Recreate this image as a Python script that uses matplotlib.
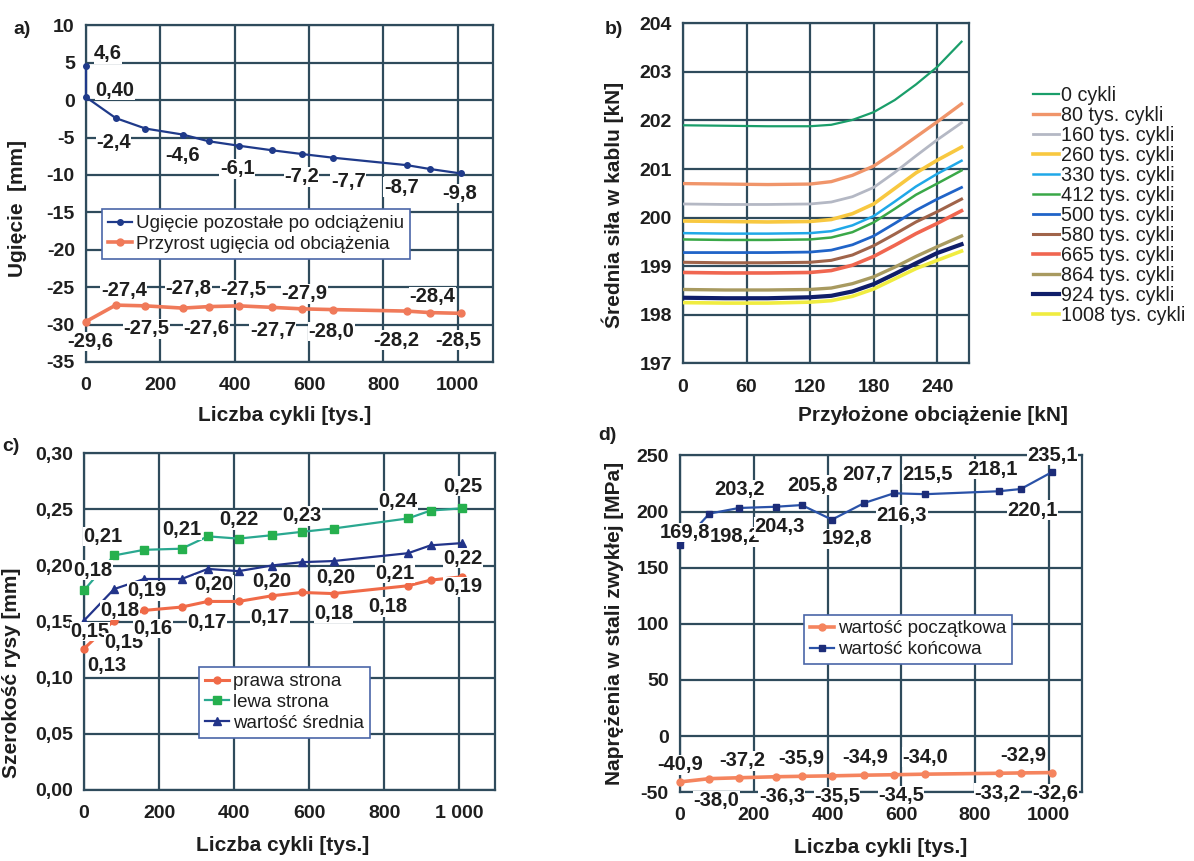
import matplotlib
matplotlib.use("Agg")
import matplotlib.pyplot as plt
from matplotlib.ticker import FuncFormatter

plt.rcParams['font.family'] = ['Liberation Sans', 'DejaVu Sans']
plt.rcParams['font.size'] = 14
plt.rcParams['font.weight'] = 'bold'
plt.rcParams['axes.labelweight'] = 'bold'
plt.rcParams['axes.unicode_minus'] = False

GRID = '#2f4b5c'
TXT = '#1e1e1e'

cycles = [0, 80, 160, 260, 330, 412, 500, 580, 665, 864, 924, 1008]

# a) ugiecie
a_resid_x = [0, 0, 80, 160, 260, 330, 412, 500, 580, 665, 864, 924, 1008]
a_resid = [4.6, 0.4, -2.4, -3.8, -4.6, -5.5, -6.1, -6.7, -7.2, -7.7, -8.7, -9.2, -9.8]
a_incr = [-29.6, -27.4, -27.5, -27.8, -27.6, -27.5, -27.7, -27.9, -28.0, -28.2, -28.4, -28.5]
a_resid_lab = [(0, '4,6', 22, 12), (1, '0,40', 29, 7), (2, '-2,4', -2, -24), (4, '-4,6', 0, -21),
               (6, '-6,1', -2, -23), (8, '-7,2', 0, -23), (9, '-7,7', 15, -24), (10, '-8,7', -6, -22),
               (12, '-9,8', -1, -20)]
a_incr_lab = [(0, '-29,6', 4, -20), (1, '-27,4', 8, 15), (2, '-27,5', 1, -23), (3, '-27,8', 6, 20),
              (4, '-27,6', -2, -22), (5, '-27,5', 4, 16), (6, '-27,7', 1, -23), (7, '-27,9', 3, 15),
              (8, '-28,0', -2, -22), (9, '-28,2', -11, -29), (10, '-28,4', 3, 16), (11, '-28,5', -3, -27)]

# b) sila w kablu
b_load = [0, 40, 80, 120, 140, 160, 180, 200, 220, 240, 263]
b_names = ['0 cykli', '80 tys. cykli', '160 tys. cykli', '260 tys. cykli', '330 tys. cykli',
           '412 tys. cykli', '500 tys. cykli', '580 tys. cykli', '665 tys. cykli', '864 tys. cykli',
           '924 tys. cykli', '1008 tys. cykli']
b_force = [
    [201.90, 201.89, 201.88, 201.88, 201.91, 202.01, 202.17, 202.42, 202.74, 203.10, 203.62],
    [200.70, 200.69, 200.68, 200.69, 200.74, 200.87, 201.06, 201.35, 201.66, 201.97, 202.34],
    [200.28, 200.27, 200.27, 200.28, 200.32, 200.43, 200.62, 200.93, 201.27, 201.60, 201.95],
    [199.93, 199.92, 199.91, 199.92, 199.96, 200.08, 200.28, 200.60, 200.92, 201.18, 201.45],
    [199.68, 199.67, 199.67, 199.68, 199.72, 199.84, 200.03, 200.33, 200.64, 200.90, 201.17],
    [199.55, 199.54, 199.54, 199.55, 199.59, 199.70, 199.90, 200.18, 200.47, 200.70, 200.97],
    [199.28, 199.28, 199.28, 199.29, 199.33, 199.44, 199.62, 199.88, 200.15, 200.38, 200.62],
    [199.08, 199.07, 199.07, 199.08, 199.12, 199.23, 199.42, 199.66, 199.91, 200.12, 200.38],
    [198.87, 198.86, 198.86, 198.87, 198.91, 199.02, 199.20, 199.43, 199.67, 199.88, 200.14],
    [198.52, 198.51, 198.51, 198.52, 198.55, 198.64, 198.78, 198.98, 199.20, 199.40, 199.62],
    [198.35, 198.34, 198.34, 198.36, 198.39, 198.48, 198.63, 198.84, 199.06, 199.27, 199.45],
    [198.25, 198.24, 198.24, 198.26, 198.29, 198.38, 198.53, 198.74, 198.95, 199.12, 199.31],
]
b_colors = ['#1a9e6a', '#f0956a', '#b4b8c4', '#f8c840', '#20a8e8', '#3aa848',
            '#2064c8', '#a0644a', '#f06650', '#a89a60', '#101e6a', '#f0ec40']
b_widths = [1.6, 2.4, 2.0, 2.6, 1.8, 1.8, 2.0, 2.2, 2.6, 2.4, 3.0, 2.6]

# c) szerokosc rysy
c_right = [0.126, 0.151, 0.160, 0.163, 0.168, 0.168, 0.173, 0.176, 0.175, 0.182, 0.187, 0.190]
c_left = [0.178, 0.209, 0.214, 0.215, 0.226, 0.224, 0.227, 0.230, 0.233, 0.242, 0.249, 0.251]
c_mean = [0.151, 0.179, 0.188, 0.188, 0.197, 0.195, 0.200, 0.203, 0.204, 0.211, 0.218, 0.220]
c_left_lab = [(0, '0,18', 9, 20), (1, '0,21', -11, 19), (3, '0,21', 0, 19), (5, '0,22', 0, 19),
              (7, '0,23', 0, 16), (9, '0,24', -10, 17), (11, '0,25', 1, 22)]
c_mean_lab = [(0, '0,15', 6, -11), (1, '0,18', 6, -21), (2, '0,19', 3, -12), (4, '0,20', 6, -16),
              (6, '0,20', 0, -16), (8, '0,20', 2, -16), (9, '0,21', -13, -20), (11, '0,22', 1, -15)]
c_right_lab = [(0, '0,13', 23, -17), (1, '0,15', 10, -22), (2, '0,16', 9, -18), (4, '0,17', -1, -21),
               (6, '0,17', -2, -22), (8, '0,18', 0, -20), (9, '0,18', -20, -21), (11, '0,19', 1, -10)]

# d) naprezenia
d_init = [-40.9, -38.0, -37.2, -36.3, -35.9, -35.5, -34.9, -34.5, -34.0, -33.2, -32.9, -32.6]
d_final = [169.8, 198.2, 203.2, 204.3, 205.8, 192.8, 207.7, 216.3, 215.5, 218.1, 220.1, 235.1]
d_init_off = [(0, 17), (7, -22), (3, 17), (6, -20), (0, 18), (5, -21),
              (1, 18), (7, -21), (0, 17), (-1, -20), (2, 17), (4, -21)]
d_final_off = [(5, 13), (26, -23), (1, 18), (4, -20), (11, 20), (15, -19),
               (3, 28), (8, -22), (2, 20), (-6, 22), (12, -21), (1, 17)]


def comma(fmt):
    return FuncFormatter(lambda v, p: (fmt % v).replace('.', ','))


def style(ax):
    ax.grid(True, color=GRID, lw=1.6)
    ax.set_axisbelow(True)
    for s in ax.spines.values():
        s.set_color(GRID)
        s.set_linewidth(1.6)
    ax.tick_params(length=0, labelsize=14, colors=TXT)
    ax.tick_params(axis='x', pad=11)
    ax.tick_params(axis='y', pad=8)


def put(ax, x, y, txt, dx, dy):
    ax.annotate(txt, (x, y), xytext=(dx, dy), textcoords='offset pixels',
                ha='center', va='center', fontsize=14.5, color=TXT, zorder=5,
                bbox=dict(fc='white', ec='none', pad=0.3))


def legend(ax, anchor):
    lg = ax.legend(loc='upper left', bbox_to_anchor=anchor, fancybox=False, framealpha=1,
                   edgecolor='#4a66a8', borderpad=0.3, handlelength=1.3, handletextpad=0.2,
                   labelspacing=0.2, prop={'weight': 'normal', 'size': 13.5})
    lg.get_frame().set_linewidth(1.2)
    for t in lg.get_texts():
        t.set_color(TXT)
    return lg


fig = plt.figure(figsize=(11.94, 8.61), dpi=100)
ax_a = fig.add_axes([0.072, 0.5796, 0.341, 0.391])
ax_b = fig.add_axes([0.572, 0.578, 0.2395, 0.395])
ax_c = fig.add_axes([0.0704, 0.0825, 0.344, 0.391])
ax_d = fig.add_axes([0.5695, 0.080, 0.337, 0.391])

# ---- a)
style(ax_a)
ax_a.plot(a_resid_x, a_resid, '-o', color='#1f3a8a', lw=1.6, ms=4, clip_on=False, zorder=3,
          label='Ugięcie pozostałe po odciążeniu')
ax_a.plot(cycles, a_incr, '-o', color='#f07a5a', lw=2.6, ms=5, clip_on=False, zorder=3,
          label='Przyrost ugięcia od obciążenia')
for i, t, dx, dy in a_resid_lab:
    put(ax_a, a_resid_x[i], a_resid[i], t, dx, dy)
for i, t, dx, dy in a_incr_lab:
    put(ax_a, cycles[i], a_incr[i], t, dx, dy)
ax_a.set_xlim(0, 1095)
ax_a.set_ylim(-35, 10)
ax_a.set_xticks(range(0, 1001, 200))
ax_a.set_yticks(range(-35, 11, 5))
ax_a.set_xlabel('Liczba cykli [tys.]', fontsize=15, color=TXT)
ax_a.set_ylabel('Ugięcie  [mm]', fontsize=15, color=TXT)
ax_a.xaxis.set_label_coords(0.489, -0.131)
ax_a.yaxis.set_label_coords(-0.145, 0.457)
legend(ax_a, (0.017, 0.481))

# ---- b)
style(ax_b)
for vals, name, col, w in zip(b_force, b_names, b_colors, b_widths):
    ax_b.plot(b_load, vals, color=col, lw=w, label=name, zorder=3)
ax_b.set_xlim(0, 270)
ax_b.set_ylim(197, 204)
ax_b.set_xticks(range(0, 241, 60))
ax_b.set_yticks(range(197, 205))
ax_b.set_xlabel('Przyłożone obciążenie [kN]', fontsize=15, color=TXT)
ax_b.set_ylabel('Średnia siła w kablu [kN]', fontsize=15, color=TXT)
ax_b.xaxis.set_label_coords(0.874, -0.126)
ax_b.yaxis.set_label_coords(-0.206, 0.465)
lb = ax_b.legend(loc='upper left', bbox_to_anchor=(1.19, 0.845), frameon=False, borderpad=0,
                 handlelength=1.3, handletextpad=0.1, labelspacing=0.05,
                 prop={'weight': 'normal', 'size': 14.2})
for t in lb.get_texts():
    t.set_color(TXT)

# ---- c)
style(ax_c)
ax_c.plot(cycles, c_right, '-o', color='#f06a48', lw=2.2, ms=5, clip_on=False, zorder=3,
          label='prawa strona')
ax_c.plot(cycles, c_left, '-s', color='#2aa890', mfc='#26b04e', mec='#26b04e', lw=1.6, ms=6,
          clip_on=False, zorder=3, label='lewa strona')
ax_c.plot(cycles, c_mean, '-^', color='#22348a', lw=1.6, ms=6, clip_on=False, zorder=3,
          label='wartość średnia')
for i, t, dx, dy in c_left_lab:
    put(ax_c, cycles[i], c_left[i], t, dx, dy)
for i, t, dx, dy in c_mean_lab:
    put(ax_c, cycles[i], c_mean[i], t, dx, dy)
for i, t, dx, dy in c_right_lab:
    put(ax_c, cycles[i], c_right[i], t, dx, dy)
ax_c.set_xlim(0, 1095)
ax_c.set_ylim(0, 0.30)
ax_c.set_xticks(range(0, 1001, 200))
ax_c.set_yticks([0, 0.05, 0.10, 0.15, 0.20, 0.25, 0.30])
ax_c.yaxis.set_major_formatter(comma('%.2f'))
ax_c.xaxis.set_major_formatter(FuncFormatter(lambda v, p: f'{int(v):,}'.replace(',', ' ')))
ax_c.set_xlabel('Liczba cykli [tys.]', fontsize=15, color=TXT)
ax_c.set_ylabel('Szerokość rysy [mm]', fontsize=15, color=TXT)
ax_c.xaxis.set_label_coords(0.484, -0.137)
ax_c.yaxis.set_label_coords(-0.153, 0.347)
legend(ax_c, (0.258, 0.392))

# ---- d)
style(ax_d)
ax_d.plot(cycles, d_init, '-o', color='#f5845e', lw=2.6, ms=5, clip_on=False, zorder=3,
          label='wartość początkowa')
ax_d.plot(cycles, d_final, '-s', color='#2a52a8', mfc='#1c2c78', mec='#1c2c78', lw=1.6, ms=5,
          clip_on=False, zorder=3, label='wartość końcowa')
for x, v, (dx, dy) in zip(cycles, d_init, d_init_off):
    put(ax_d, x, v, f'{v:.1f}'.replace('.', ','), dx, dy)
for x, v, (dx, dy) in zip(cycles, d_final, d_final_off):
    put(ax_d, x, v, f'{v:.1f}'.replace('.', ','), dx, dy)
ax_d.set_xlim(0, 1091)
ax_d.set_ylim(-50, 250)
ax_d.set_xticks(range(0, 1001, 200))
ax_d.set_yticks(range(-50, 251, 50))
ax_d.set_xlabel('Liczba cykli [tys.]', fontsize=15, color=TXT)
ax_d.set_ylabel('Naprężenia w stali zwykłej [MPa]', fontsize=15, color=TXT)
ax_d.xaxis.set_label_coords(0.4975, -0.137)
ax_d.yaxis.set_label_coords(-0.139, 0.5)
legend(ax_d, (0.286, 0.555))

for txt, x, y in [('a)', 22, 30), ('b)', 614, 30), ('c)', 11, 447), ('d)', 607, 436)]:
    fig.text(x / 1194, 1 - y / 861, txt, ha='center', va='center', fontsize=14, color=TXT)

fig.savefig('out.png', dpi=100, facecolor='white')
